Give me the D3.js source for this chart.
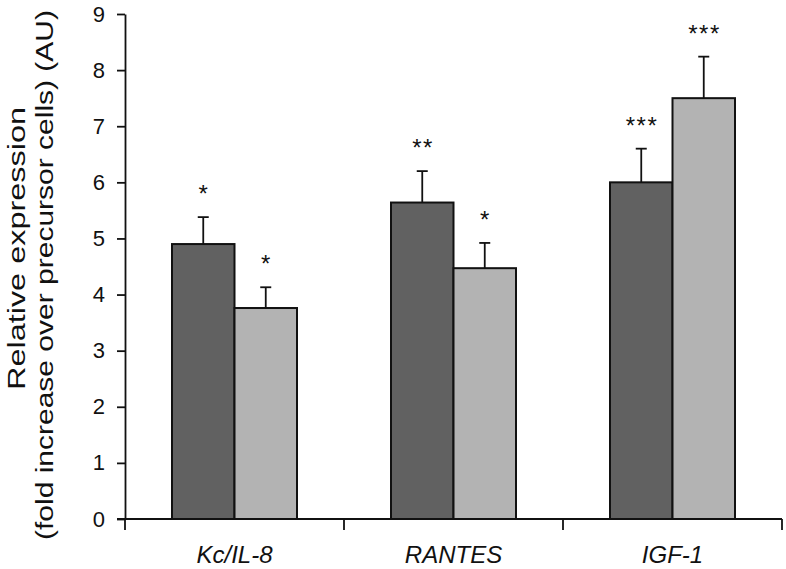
<!DOCTYPE html>
<html>
<head>
<meta charset="utf-8">
<script src="https://cdn.jsdelivr.net/npm/d3@7"></script>
<style>
  html, body { margin: 0; padding: 0; background: #fff; }
  svg { display: block; }
  text { font-family: "Liberation Sans", Arial, Helvetica, sans-serif; fill: #111; }
</style>
</head>
<body>
<svg id="chart" width="786" height="569"></svg>
<script>
// ---- data ----
const categories = ["Kc/IL-8", "RANTES", "IGF-1"];
const seriesNames = ["group1", "group2"];
const series1Values = [4.90, 5.64, 6.00];
const series2Values = [3.76, 4.47, 7.50];
const series1Errors = [0.48, 0.56, 0.60];
const series2Errors = [0.37, 0.45, 0.74];
const series1Stars = ["*", "**", "***"];
const series2Stars = ["*", "*", "***"];
const yTicks = [0, 1, 2, 3, 4, 5, 6, 7, 8, 9];

// ---- layout ----
const svg = d3.select("#chart");
const padL = 125, padR = 782, padT = 14, padB = 519;
const colors = ["#616161", "#b3b3b3"];

const x = d3.scaleBand().domain(categories).range([padL, padR]).paddingInner(0).paddingOuter(0);
const xSub = d3.scaleBand().domain(seriesNames).range([47, x.bandwidth() - 47]).padding(0);
const y = d3.scaleLinear().domain([0, 9]).range([padB, padT]);

const rows = categories.map((c, i) => ({
  cat: c,
  vals: [
    { s: seriesNames[0], v: series1Values[i], e: series1Errors[i], star: series1Stars[i], color: colors[0] },
    { s: seriesNames[1], v: series2Values[i], e: series2Errors[i], star: series2Stars[i], color: colors[1] }
  ]
}));

const g = svg.append("g");
const groups = g.selectAll("g.cat").data(rows).join("g")
  .attr("transform", d => `translate(${x(d.cat)},0)`);

// error bars (upward only)
groups.selectAll("line.err").data(d => d.vals).join("line")
  .attr("x1", d => xSub(d.s) + xSub.bandwidth() / 2)
  .attr("x2", d => xSub(d.s) + xSub.bandwidth() / 2)
  .attr("y1", d => y(d.v))
  .attr("y2", d => y(d.v + d.e))
  .attr("stroke", "#111").attr("stroke-width", 1.8);
groups.selectAll("line.cap").data(d => d.vals).join("line")
  .attr("x1", d => xSub(d.s) + xSub.bandwidth() / 2 - 5.5)
  .attr("x2", d => xSub(d.s) + xSub.bandwidth() / 2 + 5.5)
  .attr("y1", d => y(d.v + d.e))
  .attr("y2", d => y(d.v + d.e))
  .attr("stroke", "#111").attr("stroke-width", 1.8);

// bars
groups.selectAll("rect").data(d => d.vals).join("rect")
  .attr("x", d => xSub(d.s))
  .attr("width", xSub.bandwidth())
  .attr("y", d => y(d.v))
  .attr("height", d => y(0) - y(d.v))
  .attr("fill", d => d.color)
  .attr("stroke", "#111").attr("stroke-width", 2);

// stars
groups.selectAll("text.star").data(d => d.vals).join("text")
  .attr("class", "star")
  .attr("x", d => xSub(d.s) + xSub.bandwidth() / 2 + 0.75)
  .attr("y", d => y(d.v + d.e) - 15)
  .attr("text-anchor", "middle")
  .attr("font-size", 24)
  .style("letter-spacing", "1.5px")
  .text(d => d.star);

// y axis
const yAxis = d3.axisLeft(y).tickValues(yTicks).tickSize(8).tickPadding(12).tickSizeOuter(0);
const yg = svg.append("g").attr("transform", `translate(${padL},0)`).call(yAxis);
yg.select(".domain").attr("stroke", "#111").attr("stroke-width", 1.8);
yg.selectAll(".tick line").attr("stroke", "#111").attr("stroke-width", 1.8);
yg.selectAll(".tick text").attr("font-size", 22).attr("font-family", "Liberation Sans, Arial, sans-serif").attr("fill", "#111");

// x axis with boundary ticks
const xg = svg.append("g").attr("transform", `translate(0,${padB})`);
xg.append("line").attr("x1", padL - 8).attr("x2", padR).attr("y1", 0).attr("y2", 0)
  .attr("stroke", "#111").attr("stroke-width", 1.8);
const boundaries = categories.map(c => x(c)).concat([x(categories[categories.length - 1]) + x.bandwidth()]);
xg.selectAll("line.bt").data(boundaries).join("line")
  .attr("x1", d => d).attr("x2", d => d).attr("y1", 0).attr("y2", 11)
  .attr("stroke", "#111").attr("stroke-width", 1.8);
xg.selectAll("text.cl").data(categories).join("text")
  .attr("x", d => x(d) + x.bandwidth() / 2)
  .attr("y", 43.5)
  .attr("text-anchor", "middle")
  .attr("font-size", 24)
  .attr("font-style", "italic")
  .text(d => d);

// y title
svg.append("text")
  .attr("transform", "translate(25,248.5) rotate(-90)")
  .attr("text-anchor", "middle").attr("font-size", 23)
  .attr("textLength", 283).attr("lengthAdjust", "spacingAndGlyphs")
  .text("Relative expression");
svg.append("text")
  .attr("transform", "translate(53,275) rotate(-90)")
  .attr("text-anchor", "middle").attr("font-size", 23)
  .attr("textLength", 530).attr("lengthAdjust", "spacingAndGlyphs")
  .text("(fold increase over precursor cells) (AU)");
</script>
</body>
</html>
